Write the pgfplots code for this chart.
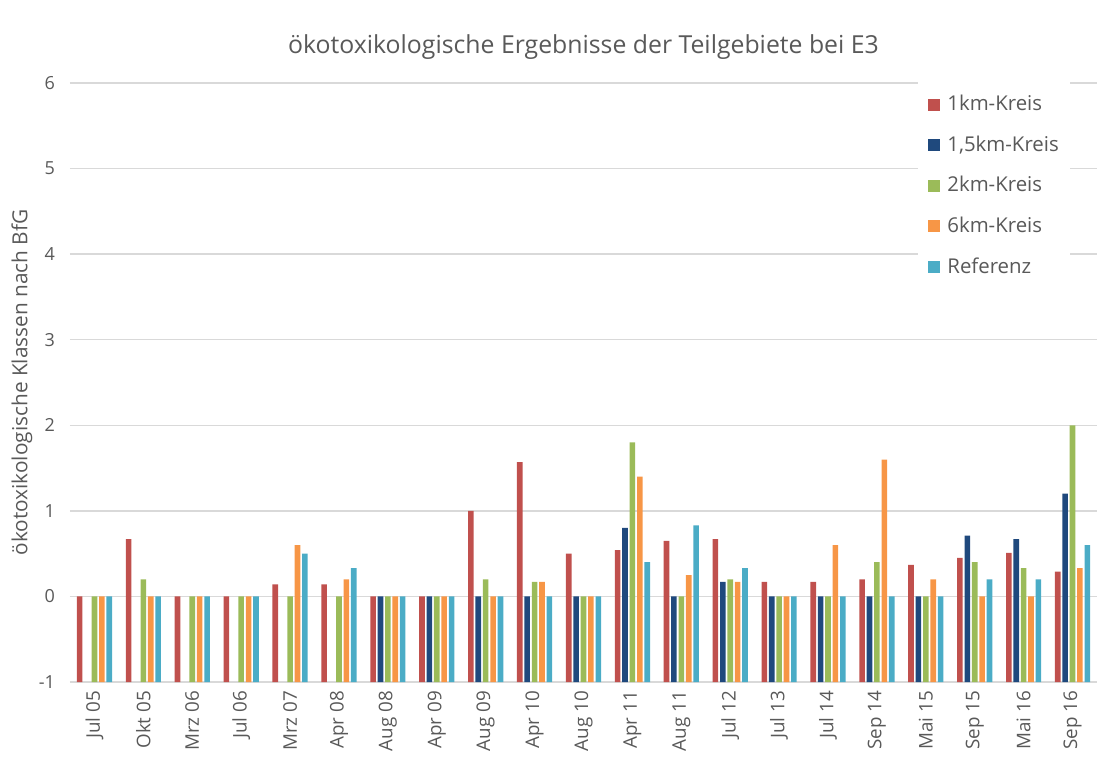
\documentclass[border=0pt]{standalone}
\usepackage{pgfplots}
\pgfplotsset{compat=1.18}
\usepackage{pgfplotstable}
\usepackage{fontspec}
\setmainfont{Open Sans}
\definecolor{txt}{HTML}{595959}
\definecolor{gridc}{HTML}{D9D9D9}
\definecolor{cA}{HTML}{C0504D}
\definecolor{cB}{HTML}{1F497D}
\definecolor{cC}{HTML}{9BBB59}
\definecolor{cD}{HTML}{F79646}
\definecolor{cE}{HTML}{4BACC6}

% values as shown on the chart (axis from -1 to 6; bars start at -1)
\pgfplotstableread{
idx a b c d e
0 0 nan 0 0 0
1 0.67 nan 0.2 0 0
2 0 nan 0 0 0
3 0 nan 0 0 0
4 0.14 nan 0 0.6 0.5
5 0.14 nan 0 0.2 0.33
6 0 0 0 0 0
7 0 0 0 0 0
8 1.0 0 0.2 0 0
9 1.57 0 0.17 0.17 0
10 0.5 0 0 0 0
11 0.54 0.8 1.8 1.4 0.4
12 0.65 0 0 0.25 0.83
13 0.67 0.17 0.2 0.17 0.33
14 0.17 0 0 0 0
15 0.17 0 0 0.6 0
16 0.2 0 0.4 1.6 0
17 0.37 0 0 0.2 0
18 0.45 0.71 0.4 0 0.2
19 0.51 0.67 0.33 0 0.2
20 0.29 1.2 2.0 0.33 0.6
}\data

\begin{document}
\begin{tikzpicture}[font=\color{txt}]
\useasboundingbox (0,0) rectangle (550pt,381pt);
\begin{axis}[
  at={(35pt,40pt)}, anchor=south west,
  scale only axis, width=513.5pt, height=299.5pt,
  xmin=-0.5, xmax=20.5, ymin=0, ymax=7,
  ybar=0.9pt, bar width=2.8pt,
  axis line style={draw=none},
  ymajorgrids, grid style={gridc, line width=0.7pt},
  major tick length=0pt,
  ytick={0,...,7}, yticklabels={-1,0,1,2,3,4,5,6},
  xtick={0,...,20},
  xticklabels={Jul 05,Okt 05,Mrz 06,Jul 06,Mrz 07,Apr 08,Aug 08,Apr 09,Aug 09,Apr 10,Aug 10,Apr 11,Aug 11,Jul 12,Jul 13,Jul 14,Sep 14,Mai 15,Sep 15,Mai 16,Sep 16},
  xticklabel style={rotate=90, anchor=east, font=\fontsize{9.4}{10}\selectfont, xshift=-1pt},
  yticklabel style={xshift=-4pt, font=\fontsize{9}{10}\selectfont},
  tick label style={color=txt},
  /pgf/number format/assume math mode=true,
  title={ökotoxikologische Ergebnisse der Teilgebiete bei E3},
  title style={font=\fontsize{12.4}{14}\selectfont, color=txt, yshift=2pt},
  ylabel={ökotoxikologische Klassen nach BfG},
  ylabel style={font=\fontsize{10.4}{12}\selectfont, color=txt, at={(axis description cs:0,0.5)}, anchor=center, yshift=24pt},
  legend style={at={(axis description cs:0.8257,1.005)}, anchor=north west, draw=none, fill=white,
    font=\fontsize{10.2}{11}\selectfont, text=txt, inner xsep=5pt, inner ysep=7pt,
    row sep=10pt, column sep=3pt, nodes={inner sep=0.5pt, anchor=west}},
  legend cell align=left,
  legend image code/.code={\fill[#1,draw=none] (0pt,-3pt) rectangle (6pt,3pt);},
]
\addplot[fill=cA, draw=none] table[x=idx, y expr=\thisrow{a}+1] {\data};
\addplot[fill=cB, draw=none] table[x=idx, y expr=\thisrow{b}+1] {\data};
\addplot[fill=cC, draw=none] table[x=idx, y expr=\thisrow{c}+1] {\data};
\addplot[fill=cD, draw=none] table[x=idx, y expr=\thisrow{d}+1] {\data};
\addplot[fill=cE, draw=none] table[x=idx, y expr=\thisrow{e}+1] {\data};
\legend{1km-Kreis,{1,5km-Kreis},2km-Kreis,6km-Kreis,Referenz}
\end{axis}
\end{tikzpicture}
\end{document}
